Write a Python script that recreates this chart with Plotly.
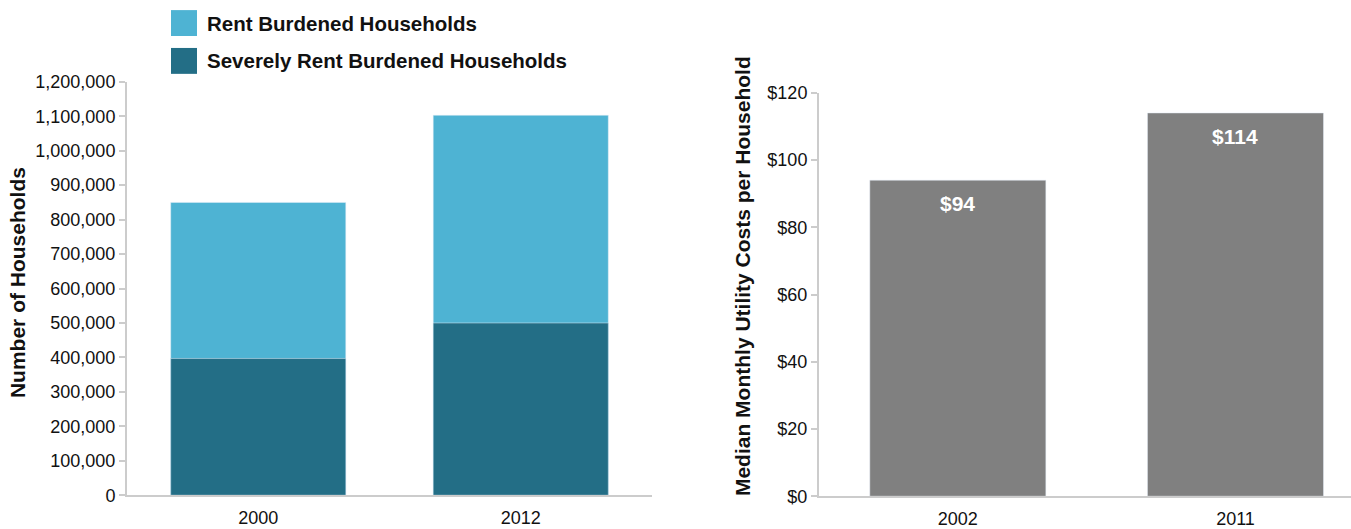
import plotly.graph_objects as go

# ---- data ----
years_left = ["2000", "2012"]
rent_burdened_total = [850000, 1103000]
severely_rent_burdened = [397000, 500000]
series_names = ["Rent Burdened Households", "Severely Rent Burdened Households"]

years_right = ["2002", "2011"]
utility_costs = [94, 114]

left_ticks = [0, 100000, 200000, 300000, 400000, 500000, 600000, 700000,
              800000, 900000, 1000000, 1100000, 1200000]
right_ticks = [0, 20, 40, 60, 80, 100, 120]

LIGHT = "#4eb3d3"
DARK = "#236e86"
GRAY = "#808080"
AXIS = "#cccccc"
FONT = "Liberation Sans, Arial, sans-serif"
DOLLAR = "&#36;"

W, H = 1351, 529

def px(x):
    return x / W

def py(y):
    # empirical correction for the vertical placement seen in the render
    i = (y - 8.9) / 0.964
    return (H - i) / H

fig = go.Figure()

fig.add_trace(go.Bar(x=years_left, y=rent_burdened_total, marker_color=LIGHT,
                     name=series_names[0], xaxis="x", yaxis="y", width=0.667,
                     hoverinfo="x+y+name"))
fig.add_trace(go.Bar(x=years_left, y=severely_rent_burdened, marker_color=DARK,
                     name=series_names[1], xaxis="x", yaxis="y", width=0.667,
                     hoverinfo="x+y+name"))
fig.add_trace(go.Bar(x=years_right, y=utility_costs, marker_color=GRAY,
                     name="Median Monthly Utility Costs", xaxis="x2", yaxis="y2",
                     width=0.634, hoverinfo="x+y"))

tickfont = dict(family=FONT, size=18, color="#111111")
base = dict(showgrid=False, zeroline=False, showline=True, linecolor=AXIS,
            linewidth=2, tickcolor=AXIS, ticklen=6, tickwidth=2,
            tickfont=tickfont, fixedrange=True)

fig.update_layout(
    width=W, height=H,
    margin=dict(l=0, r=0, t=0, b=0),
    paper_bgcolor="white", plot_bgcolor="white",
    barmode="overlay",
    showlegend=False,
    xaxis=dict(domain=[px(127), px(652)], anchor="y", range=[-0.5, 1.5],
               type="category", ticks="", ticklabelstandoff=5, **base),
    yaxis=dict(domain=[py(496), py(81)], anchor="x", range=[0, 1200000],
               tickvals=left_ticks, tickformat=",d", ticks="outside", **base),
    xaxis2=dict(domain=[px(819), px(1351)], anchor="y2", range=[-0.5, 1.416],
                type="category", ticks="", ticklabelstandoff=5, **base),
    yaxis2=dict(domain=[py(497), py(92)], anchor="x2", range=[0, 120],
                tickvals=right_ticks,
                ticktext=[DOLLAR + str(t) for t in right_ticks],
                ticks="outside", **base),
)

annotations = []
# value labels on the right bars
for idx, v in enumerate(utility_costs):
    annotations.append(dict(x=idx, y=v, xref="x2", yref="y2",
                            text="<b>" + DOLLAR + str(v) + "</b>",
                            showarrow=False, yanchor="top", yshift=-10,
                            font=dict(family=FONT, size=21, color="white")))
# axis titles
annotations.append(dict(x=px(17), y=py(283), xref="paper", yref="paper",
                        text="<b>Number of Households</b>", textangle=-90,
                        showarrow=False, xanchor="center", yanchor="middle",
                        font=dict(family=FONT, size=21, color="#111111")))
annotations.append(dict(x=px(742), y=py(276), xref="paper", yref="paper",
                        text="<b>Median Monthly Utility Costs per Household</b>",
                        textangle=-90, showarrow=False, xanchor="center",
                        yanchor="middle",
                        font=dict(family=FONT, size=21, color="#111111")))
# custom legend
shapes = []
for i, (name, col) in enumerate(zip(series_names, [LIGHT, DARK])):
    yc = 22 + 38 * i
    shapes.append(dict(type="rect", xref="paper", yref="paper",
                       x0=px(171), x1=px(197), y0=py(yc + 13), y1=py(yc - 13),
                       fillcolor=col, line=dict(width=0)))
    annotations.append(dict(x=px(205), y=py(yc), xref="paper", yref="paper",
                            text=f"<b>{name}</b>", showarrow=False,
                            xanchor="left", yanchor="middle",
                            font=dict(family=FONT, size=20.5, color="#111111")))

fig.update_layout(annotations=annotations, shapes=shapes)

fig.write_html("out.html")
